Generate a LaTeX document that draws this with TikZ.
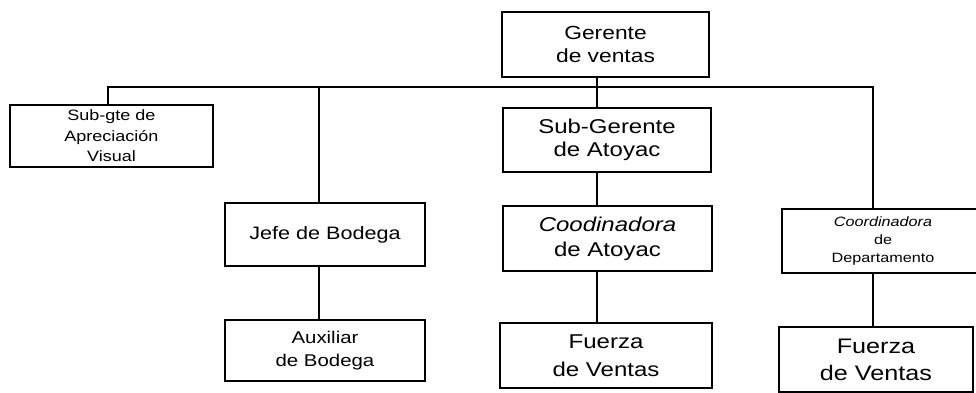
\documentclass[tikz,border=0pt]{standalone}
\usepackage{fontspec}
\setmainfont{Liberation Sans}[FakeStretch=1.2]
\begin{document}
\begin{tikzpicture}[x=1pt,y=-1pt,
  line width=1.6pt,
  box/.style={draw, inner sep=0pt, align=center, rectangle},
  fs/.style 2 args={font={\fontsize{#1}{#2}\selectfont}}]
\useasboundingbox (0,0) rectangle (976,393);
% boxes
\node[box, minimum width=207, minimum height=65, fs={19}{23}] (ger) at (605.5,44.5) {Gerente\\de ventas};
\node[box, minimum width=203, minimum height=62, fs={15}{20.5}] (sub) at (111.5,136) {Sub-gte de\\Apreciación\\Visual};
\node[box, minimum width=200, minimum height=63, fs={18}{22}] (jefe) at (325,234.5) {Jefe de Bodega};
\node[box, minimum width=200, minimum height=61, fs={17}{23}] (aux) at (325,350.5) {Auxiliar\\de Bodega};
\node[box, minimum width=208, minimum height=64, fs={20}{23}] (sga) at (607,140) {Sub-Gerente\\de Atoyac};
\node[box, minimum width=209, minimum height=65, fs={20}{25}] (coa) at (607.5,238.5) {\itshape Coodinadora\\de Atoyac};
\node[box, minimum width=212, minimum height=65, fs={20}{28}] (fv1) at (606,355.5) {Fuerza\\de Ventas};
\node[box, minimum width=202, minimum height=64, fs={13.5}{18}] (cod) at (883,241) {\itshape Coordinadora\\de\\Departamento};
\node[box, minimum width=194, minimum height=65, fs={21}{27}] (fv2) at (876,359.5) {Fuerza\\de Ventas};
% connectors
\coordinate (t) at (597,87);
\coordinate (l) at (108,87);
\coordinate (r) at (873,87);
\coordinate (jl) at (319,87);
\draw (ger.south -| t) -- (sga.north -| t);
\draw (sub.north -| l) -- (l) -- (r) -- (cod.north -| r);
\draw (jl) -- (jefe.north -| jl);
\draw (jefe.south -| jl) -- (aux.north -| jl);
\draw (sga.south -| t) -- (coa.north -| t);
\draw (coa.south -| t) -- (fv1.north -| t);
\draw (cod.south -| r) -- (fv2.north -| r);
\end{tikzpicture}
\end{document}
